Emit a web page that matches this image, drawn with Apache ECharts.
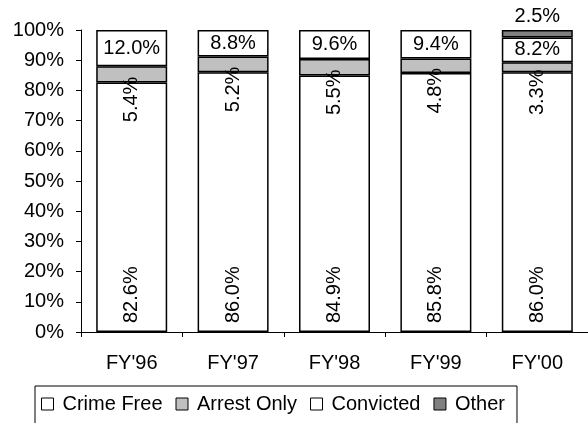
<!DOCTYPE html>
<html>
<head>
<meta charset="utf-8">
<script src="https://cdn.jsdelivr.net/npm/echarts@6/dist/echarts.min.js"></script>
<style>
  html, body { margin: 0; padding: 0; background: #fff; }
  #chart { width: 588px; height: 423px; }
</style>
</head>
<body>
<div id="chart"></div>
<script>
const years = ["FY'96", "FY'97", "FY'98", "FY'99", "FY'00"]
const crimeFree = [82.6, 86.0, 84.9, 85.8, 86.0]
const arrestOnly = [5.4, 5.2, 5.5, 4.8, 3.3]
const convicted = [12.0, 8.8, 9.6, 9.4, 8.2]
const other = [null, null, null, null, 2.5]

const FONT = '"Liberation Sans", Arial, sans-serif'
const pct = (p) => p.value.toFixed(1) + '%'
const base = { color: '#000', fontFamily: FONT, fontSize: 20 }
const outline = { borderColor: '#000', borderWidth: 1.5 }

const chart = echarts.init(document.getElementById('chart'))
chart.setOption({
  animation: false,
  grid: { left: 81, right: 0, top: 30, bottom: 91 },
  legend: {
    left: 35, top: 386,
    padding: [8, 12, 12, 6],
    borderColor: '#000', borderWidth: 1, borderRadius: 0,
    backgroundColor: '#fff',
    icon: 'rect', itemWidth: 12, itemHeight: 12, itemGap: 13,
    itemStyle: { borderColor: '#000', borderWidth: 1 },
    textStyle: { color: '#000', fontFamily: FONT, fontSize: 20, padding: [0, 0, 0, 4] },
    data: ['Crime Free', 'Arrest Only', 'Convicted', 'Other']
  },
  xAxis: {
    type: 'category', data: years, boundaryGap: true,
    axisLine: { lineStyle: { color: '#000', width: 1 } },
    axisTick: { show: true, length: 5, lineStyle: { color: '#000' } },
    axisLabel: { color: '#000', fontFamily: FONT, fontSize: 20, margin: 21 }
  },
  yAxis: {
    type: 'value', min: 0, max: 100, interval: 10,
    axisLine: { show: true, lineStyle: { color: '#000', width: 1 } },
    axisTick: { show: true, length: 5, lineStyle: { color: '#000' } },
    axisLabel: { color: '#000', fontFamily: FONT, fontSize: 20, margin: 17, formatter: '{value}%' },
    splitLine: { show: false }
  },
  series: [
    {
      name: 'Crime Free', type: 'bar', stack: 'a', barWidth: '70%', data: crimeFree,
      itemStyle: { color: '#fff', ...outline },
      label: { show: true, ...base, position: 'insideBottom', distance: 9, rotate: 90,
        align: 'left', verticalAlign: 'middle', formatter: pct }
    },
    {
      name: 'Arrest Only', type: 'bar', stack: 'a', barWidth: '70%', data: arrestOnly,
      itemStyle: { color: '#c0c0c0', ...outline },
      label: { show: true, ...base, position: 'inside', rotate: 90,
        align: 'center', verticalAlign: 'middle', offset: [-25, 0], formatter: pct }
    },
    {
      name: 'Convicted', type: 'bar', stack: 'a', barWidth: '70%', data: convicted,
      itemStyle: { color: '#fff', ...outline },
      label: { show: true, ...base, position: 'inside', formatter: pct }
    },
    {
      name: 'Other', type: 'bar', stack: 'a', barWidth: '70%', data: other,
      itemStyle: { color: '#808080', ...outline },
      label: { show: true, ...base, position: 'top', distance: 4, formatter: pct }
    }
  ]
})
</script>
</body>
</html>
